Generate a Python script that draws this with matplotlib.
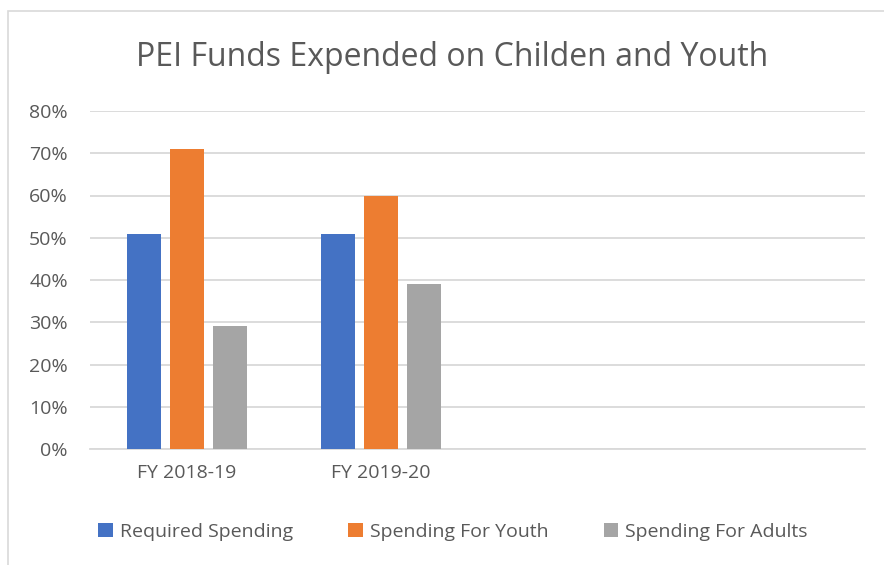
import numpy as np
import matplotlib
matplotlib.use('Agg')
import matplotlib.pyplot as plt
from matplotlib.patches import Rectangle
from matplotlib.ticker import PercentFormatter

# chart data (last two category slots are empty in the source chart)
categories = ['FY 2018-19', 'FY 2019-20', '', '']
required_spending = [0.51, 0.51, np.nan, np.nan]
spending_youth = [0.71, 0.60, np.nan, np.nan]
spending_adults = [0.29, 0.39, np.nan, np.nan]
series_names = ['Required Spending', 'Spending For Youth', 'Spending For Adults']
y_ticks = [0, 0.1, 0.2, 0.3, 0.4, 0.5, 0.6, 0.7, 0.8]

colors = ['#4472C4', '#ED7D31', '#A5A5A5']
text_color = '#595959'
grid_color = '#D9D9D9'

plt.rcParams['font.family'] = ['Open Sans', 'DejaVu Sans']

fig = plt.figure(figsize=(8.84, 5.65), dpi=100)
ax = fig.add_axes([90 / 884, 1 - 449 / 565, 775 / 884, 338 / 565])

# outer chart border
fig.patches.append(Rectangle((8 / 884, -0.1), 1.2, 1 - 11 / 565 + 0.1,
                             transform=fig.transFigure, fill=False,
                             edgecolor=grid_color, linewidth=1.2))

x = np.arange(len(categories))
bar_w = 0.175
step = 0.222
for i, (vals, name) in enumerate(zip([required_spending, spending_youth, spending_adults], series_names)):
    ax.bar(x + (i - 1) * step, vals, width=bar_w, color=colors[i], label=name, zorder=3)

ax.set_xlim(-0.5, len(categories) - 0.5)
ax.set_ylim(0, 0.8)
ax.set_yticks(y_ticks)
ax.yaxis.set_major_formatter(PercentFormatter(1.0, decimals=0))
ax.set_xticks(x)
ax.set_xticklabels(categories)

ax.grid(axis='y', color=grid_color, linewidth=1.3, zorder=0)
for s in ['top', 'right', 'left']:
    ax.spines[s].set_visible(False)
ax.spines['bottom'].set_color(grid_color)
ax.spines['bottom'].set_linewidth(1.3)
ax.tick_params(axis='both', length=0, labelsize=14, colors=text_color)
ax.tick_params(axis='y', pad=16)
ax.tick_params(axis='x', pad=11)

fig.text(452 / 884, 1 - 58 / 565, 'PEI Funds Expended on Childen and Youth',
         ha='center', va='center', fontsize=23, color=text_color)

fig.legend(loc='center', bbox_to_anchor=(453 / 884, 1 - 532 / 565), ncol=3,
           frameon=False, fontsize=14, labelcolor=text_color,
           handlelength=0.75, handleheight=0.75, handletextpad=0.35, columnspacing=2.85)

fig.savefig('out.png', dpi=100)
